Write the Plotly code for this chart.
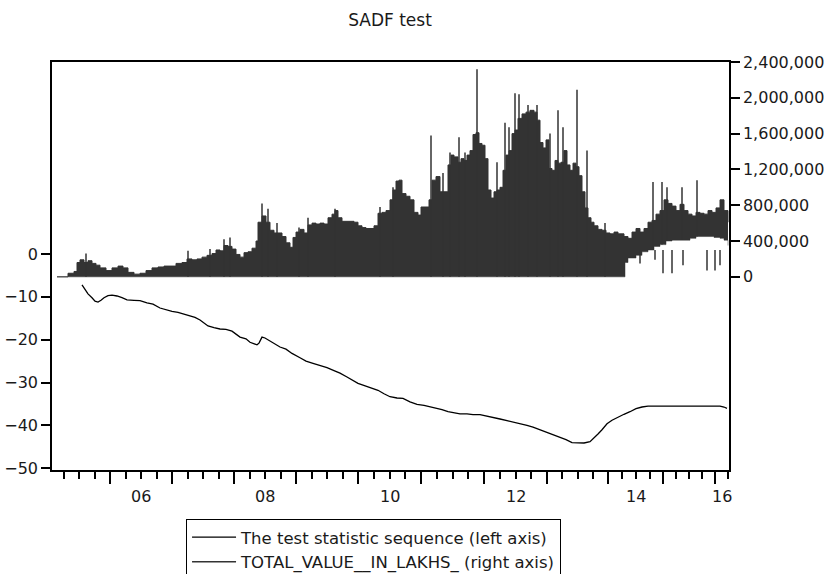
import plotly.graph_objects as go

# ---- calendar: observation number (trading day) at which each year starts ----
year_names = ["05", "06", "07", "08", "09", "10", "11", "12", "13", "14", "15", "16", "17"]
year_start_obs = [-33, 213, 462, 710, 957, 1206, 1456, 1710, 1960, 2206, 2426, 2633, 2840]
labelled_years = ["06", "08", "10", "12", "14", "16"]
x_first, x_last = -19, 2689

# ---- SADF test statistic sequence (left axis) ----
sadf_obs = [101, 113, 125, 141, 153, 165, 177, 189, 205, 221, 241, 261, 281, 309, 333, 361,
            385, 413, 437, 461, 485, 525, 553, 573, 605, 629, 653, 677, 701, 733, 757, 773,
            789, 801, 809, 821, 833, 845, 861, 877, 893, 917, 941, 973, 997, 1025, 1053, 1081,
            1109, 1133, 1161, 1185, 1205, 1225, 1245, 1265, 1285, 1309, 1333, 1361, 1385, 1413,
            1441, 1469, 1493, 1517, 1541, 1565, 1589, 1613, 1641, 1665, 1693, 1721, 1749, 1773,
            1801, 1825, 1853, 1881, 1905, 1933, 1961, 1985, 2013, 2037, 2061, 2085, 2109, 2133,
            2149, 2165, 2181, 2201, 2221, 2245, 2269, 2293, 2317, 2341, 2365, 2393, 2653, 2669,
            2681]
sadf_stat = [-7.2, -8.4, -9.3, -10.2, -11.0, -11.2, -10.8, -10.2, -9.7, -9.6, -9.8, -10.2, -10.7,
             -10.8, -10.9, -11.4, -11.7, -12.6, -13.0, -13.4, -13.6, -14.2, -14.8, -15.4, -16.8,
             -17.2, -17.5, -17.6, -18.0, -19.4, -19.8, -20.6, -21.0, -21.2, -20.8, -19.4, -19.6,
             -20.0, -20.5, -21.2, -21.7, -22.2, -23.2, -24.2, -25.0, -25.5, -26.0, -26.5, -27.2,
             -27.8, -28.7, -29.6, -30.2, -30.6, -31.0, -31.3, -31.8, -32.6, -33.3, -33.6, -33.7,
             -34.5, -35.1, -35.3, -35.6, -36.0, -36.3, -36.8, -37.0, -37.3, -37.3, -37.5, -37.5,
             -37.8, -38.2, -38.5, -38.9, -39.2, -39.6, -40.0, -40.4, -41.0, -41.5, -42.0, -42.7,
             -43.3, -44.0, -44.1, -44.1, -43.8, -43.0, -42.0, -41.0, -39.6, -38.8, -38.0, -37.4,
             -36.8, -36.1, -35.7, -35.5, -35.5, -35.5, -35.7, -36.0]

# ---- TOTAL_VALUE__IN_LAKHS_ (right axis): daily range of the series ----
tv_high_obs = [1, 29, 45, 69, 81, 93, 109, 125, 141, 157, 173, 197, 221, 245, 265, 285, 309, 333,
               357, 381, 405, 429, 453, 477, 501, 521, 541, 561, 581, 601, 621, 637, 653, 669, 685,
               701, 717, 733, 749, 765, 781, 797, 805, 821, 837, 853, 869, 885, 901, 917, 933, 945,
               957, 973, 989, 1005, 1021, 1037, 1053, 1069, 1085, 1101, 1113, 1125, 1141, 1157,
               1173, 1189, 1205, 1221, 1237, 1253, 1269, 1285, 1301, 1317, 1333, 1345, 1357, 1369,
               1381, 1397, 1413, 1429, 1445, 1457, 1473, 1489, 1501, 1517, 1533, 1549, 1565, 1577,
               1589, 1605, 1617, 1629, 1641, 1653, 1665, 1677, 1689, 1701, 1713, 1725, 1737, 1749,
               1761, 1773, 1785, 1797, 1809, 1821, 1833, 1845, 1861, 1877, 1893, 1909, 1921, 1933,
               1945, 1957, 1969, 1981, 1993, 2005, 2017, 2029, 2041, 2053, 2065, 2077, 2089, 2101,
               2113, 2125, 2137, 2149, 2165, 2181, 2197, 2213, 2229, 2245, 2261, 2269, 2285, 2301,
               2317, 2333, 2349, 2365, 2381, 2397, 2413, 2429, 2445, 2461, 2477, 2493, 2509, 2525,
               2541, 2557, 2573, 2589, 2605, 2621, 2637, 2653, 2669, 2685]
tv_high = [0, 0, 40000, 60000, 160000, 190000, 160000, 180000, 150000, 130000, 100000, 70000,
           100000, 120000, 100000, 50000, 30000, 40000, 70000, 100000, 110000, 120000, 120000,
           150000, 160000, 200000, 190000, 200000, 220000, 240000, 260000, 300000, 290000, 350000,
           340000, 310000, 250000, 220000, 270000, 280000, 320000, 400000, 610000, 680000, 610000,
           520000, 490000, 490000, 450000, 380000, 330000, 440000, 500000, 530000, 490000, 580000,
           600000, 590000, 600000, 590000, 660000, 700000, 740000, 660000, 620000, 620000, 620000,
           610000, 570000, 550000, 540000, 540000, 570000, 710000, 720000, 740000, 860000, 970000,
           1070000, 1080000, 930000, 900000, 860000, 720000, 690000, 780000, 780000, 860000,
           1080000, 1120000, 950000, 950000, 1250000, 1360000, 1340000, 1280000, 1320000, 1300000,
           1360000, 1410000, 1590000, 1610000, 1490000, 1470000, 1320000, 970000, 880000, 950000,
           970000, 1000000, 1190000, 1360000, 1410000, 1600000, 1640000, 1770000, 1820000,
           1840000, 1860000, 1840000, 1750000, 1500000, 1440000, 1530000, 1210000, 1190000,
           1300000, 1270000, 1280000, 1410000, 1250000, 1190000, 1270000, 1230000, 1130000,
           950000, 770000, 660000, 610000, 570000, 530000, 520000, 490000, 480000, 500000, 480000,
           480000, 450000, 430000, 500000, 540000, 500000, 540000, 610000, 630000, 700000, 740000,
           860000, 820000, 790000, 740000, 810000, 740000, 700000, 680000, 720000, 710000, 700000,
           740000, 720000, 770000, 860000, 740000, 610000]
tv_low_obs = [1, 2265, 2273, 2285, 2317, 2341, 2365, 2389, 2413, 2437, 2461, 2485, 2509, 2533,
              2557, 2581, 2605, 2629, 2653, 2669, 2685]
tv_low = [0, 0, 160000, 210000, 240000, 280000, 300000, 340000, 360000, 400000, 410000, 410000,
          410000, 430000, 450000, 450000, 450000, 440000, 430000, 410000, 350000]

# single-day extremes standing out from the daily range
spike_obs = [117, 525, 613, 669, 693, 821, 845, 881, 969, 1005, 1113, 1293, 1345, 1497, 1545,
             1573, 1609, 1633, 1681, 1761, 1793, 1809, 1833, 1849, 1885, 1921, 1973, 2005, 2025,
             2081, 2121, 2193, 2385, 2421, 2441, 2501, 2561, 2333, 2393, 2425, 2461, 2505, 2601,
             2633, 2653]
spike_from = [0] * 32 + [330000, 360000, 400000, 420000, 450000] + [300000] * 8
spike_to = [260000, 290000, 310000, 420000, 440000, 820000, 760000, 600000, 550000, 660000,
            760000, 780000, 1000000, 1580000, 1160000, 1390000, 1560000, 1390000, 2320000,
            1280000, 1720000, 1670000, 2050000, 2040000, 1920000, 1920000, 1600000, 1860000,
            1670000, 2090000, 1410000, 600000, 1060000, 1060000, 1000000, 1000000, 1080000,
            150000, 190000, 40000, 40000, 130000, 70000, 70000, 130000]

left_ticks = [0, -10, -20, -30, -40, -50]
right_ticks = [0, 400000, 800000, 1200000, 1600000, 2000000, 2400000]

# ---- derived tick positions ----
major_ticks = [v for v in year_start_obs if x_first <= v <= x_last]
quarter_ticks = []
for a, b in zip(year_start_obs[:-1], year_start_obs[1:]):
    for k in range(1, 4):
        q = a + (b - a) * k / 4
        if x_first <= q <= x_last:
            quarter_ticks.append(q)
label_pos, label_txt = [], []
for i, name in enumerate(year_names[:-1]):
    if name in labelled_years:
        a = year_start_obs[i]
        b = min(year_start_obs[i + 1], x_last)
        label_pos.append((a + b) / 2)
        label_txt.append(name)

spike_x, spike_y = [], []
for xo, y0, y1 in zip(spike_obs, spike_from, spike_to):
    spike_x += [xo, xo, None]
    spike_y += [y0, y1, None]

DARK = "#333333"
INK = "#1a1a1a"

fig = go.Figure()
fig.add_trace(go.Scatter(
    x=sadf_obs, y=sadf_stat, mode="lines", yaxis="y",
    line=dict(color="black", width=1.3),
    name="The test statistic sequence (left axis)"))
fig.add_trace(go.Scatter(
    x=tv_low_obs, y=tv_low, mode="lines", yaxis="y2",
    line=dict(color=DARK, width=0.5, shape="hv"), showlegend=False, hoverinfo="skip"))
fig.add_trace(go.Scatter(
    x=tv_high_obs, y=tv_high, mode="lines", yaxis="y2", fill="tonexty",
    fillcolor=DARK, line=dict(color=DARK, width=1, shape="hv"),
    showlegend=False, hoverinfo="skip"))
fig.add_trace(go.Scatter(
    x=spike_x, y=spike_y, mode="lines", yaxis="y2",
    line=dict(color=DARK, width=1.5),
    name="TOTAL_VALUE__IN_LAKHS_ (right axis)"))

axis_line = dict(showline=True, linecolor="black", linewidth=1.5,
                 showgrid=False, zeroline=False)

# year labels sit centred inside each labelled year, below the tick marks
year_annotations = [
    dict(x=p, xref="x", y=-0.064, yref="paper", text=t, showarrow=False,
         xanchor="center", yanchor="middle", font=dict(size=16, color=INK))
    for p, t in zip(label_pos, label_txt)
]

fig.update_layout(
    width=825, height=574,
    margin=dict(l=52, r=96, t=62, b=104, autoexpand=False),
    paper_bgcolor="white", plot_bgcolor="white",
    font=dict(family="DejaVu Sans", size=16, color=INK),
    title=dict(text="SADF test", x=0.4727, xanchor="center", y=0.965, yanchor="middle",
               font=dict(size=17, color=INK)),
    xaxis=dict(range=[x_first, x_last], tickmode="array", tickvals=major_ticks,
               ticks="outside", ticklen=12, tickwidth=1.5, tickcolor="black",
               showticklabels=False, mirror=True,
               minor=dict(tickmode="array", tickvals=quarter_ticks, ticks="outside",
                          ticklen=7, tickwidth=1.5, tickcolor="black", showgrid=False),
               **axis_line),
    yaxis=dict(range=[-50.4, 44.8], tickmode="array", tickvals=left_ticks,
               ticks="outside", ticklen=9, tickwidth=1.5, tickcolor="black",
               mirror=True, **axis_line),
    yaxis2=dict(range=[-2158000, 2400000], overlaying="y", side="right", anchor="x",
                tickmode="array", tickvals=right_ticks, tickformat=",",
                ticks="outside", ticklen=9, tickwidth=1.5, tickcolor="black",
                **axis_line),
    annotations=year_annotations,
    legend=dict(x=0.198, y=-0.12, xanchor="left", yanchor="top",
                bordercolor="black", borderwidth=1, bgcolor="white",
                font=dict(size=16.5, color=INK), itemwidth=44, tracegroupgap=0,
                traceorder="normal"),
    showlegend=True,
)

fig.write_html("out.html")
